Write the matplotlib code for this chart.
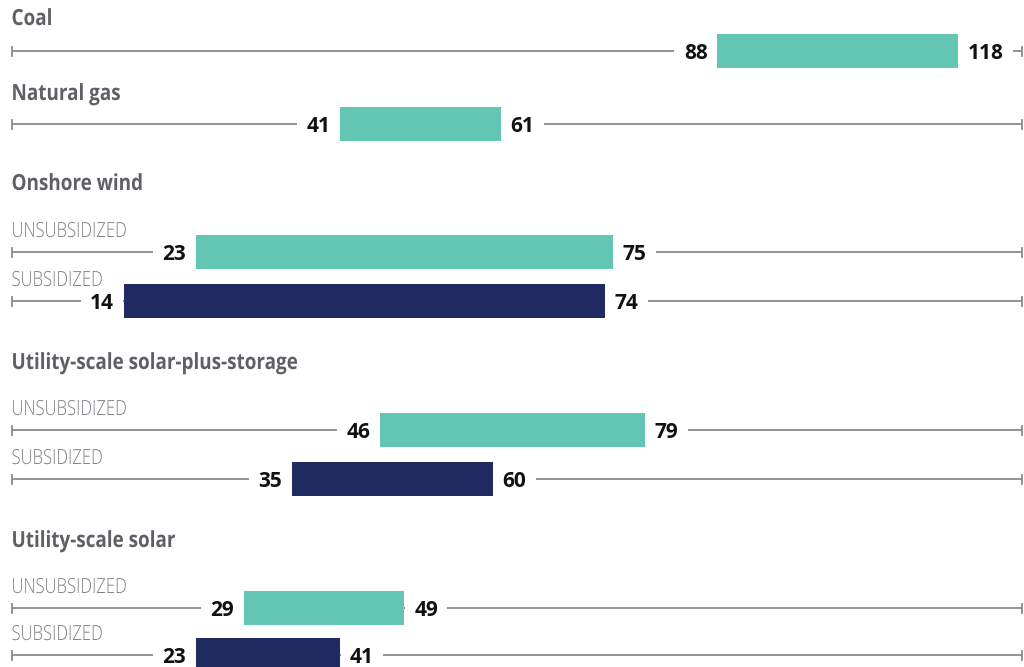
"""
Range bars: cost ranges per technology, unsubsidized vs subsidized
"""

import matplotlib.pyplot as plt
from matplotlib.textpath import TextPath
from matplotlib.patches import PathPatch
from matplotlib.font_manager import FontProperties
from matplotlib.transforms import Affine2D

# ---- data -------------------------------------------------------------
groups = ['Coal', 'Natural gas', 'Onshore wind',
          'Utility-scale solar-plus-storage', 'Utility-scale solar']
row_label = ['', '', 'UNSUBSIDIZED', 'SUBSIDIZED',
             'UNSUBSIDIZED', 'SUBSIDIZED', 'UNSUBSIDIZED', 'SUBSIDIZED']
row_kind = ['unsub', 'unsub', 'unsub', 'sub', 'unsub', 'sub', 'unsub', 'sub']
lows = [88, 41, 23, 14, 46, 35, 29, 23]
highs = [118, 61, 75, 74, 79, 60, 49, 41]
axis_max = 126

# ---- layout (pixel rows, figure is 1024x667) -------------------------
title_y = [25, 100, 190, 369, 547]
line_y = [51, 124, 252, 301, 430, 479, 608, 655]
BAR_H = 34

COLORS = {'unsub': '#62c6b3', 'sub': '#212b61'}
TITLE_COLOR = '#5e6066'
LABEL_COLOR = '#7e8084'
LINE_COLOR = '#8a8a8a'

fig = plt.figure(figsize=(10.24, 6.67), dpi=100)
ax = fig.add_axes([0, 0, 1, 1])
scale = 8.02
x0 = 11.5
ax.set_xlim(-x0 / scale, (1024 - x0) / scale)
ax.set_ylim(667, 0)
ax.axis('off')


def condensed_text(px, py, s, size, squeeze, prop, color):
    """Draw text squeezed horizontally (no condensed font installed).
    px, py are pixel coords from the top-left, py is the baseline."""
    path = TextPath((0, 0), s, size=size, prop=prop)
    k = fig.dpi / 72
    tr = Affine2D().scale(k * squeeze, k).translate(px, fig.bbox.height - py)
    fig.patches.append(PathPatch(path, transform=tr, fc=color, ec='none',
                                 figure=fig))


title_font = FontProperties(family='Open Sans', weight='bold')
label_font = FontProperties(family='Open Sans', weight='light')

for g, name in enumerate(groups):
    condensed_text(11.5, title_y[g], name, 16, 0.85, title_font, TITLE_COLOR)

for i in range(len(lows)):
    y = line_y[i]
    ax.plot([0, axis_max], [y, y], color=LINE_COLOR, lw=1.3, zorder=1,
            solid_capstyle='butt')
    for xe in (0, axis_max):
        ax.plot([xe, xe], [y - 4.5, y + 4.5], color=LINE_COLOR, lw=1.3, zorder=1)
    ax.barh(y, highs[i] - lows[i], left=lows[i], height=BAR_H,
            color=COLORS[row_kind[i]], zorder=3)
    if row_label[i]:
        condensed_text(11.5, y - 15, row_label[i], 15, 0.8, label_font,
                       LABEL_COLOR)
    box = dict(boxstyle='square,pad=0.45', fc='white', ec='none')
    ax.annotate(str(lows[i]), (lows[i], y), xytext=(-7, 0),
                textcoords='offset points', ha='right', va='center_baseline',
                fontsize=15, fontweight='bold', family='Open Sans',
                color='#111111', bbox=box, zorder=2)
    ax.annotate(str(highs[i]), (highs[i], y), xytext=(7, 0),
                textcoords='offset points', ha='left', va='center_baseline',
                fontsize=15, fontweight='bold', family='Open Sans',
                color='#111111', bbox=box, zorder=2)

fig.savefig('out.png', dpi=100, facecolor='white')
